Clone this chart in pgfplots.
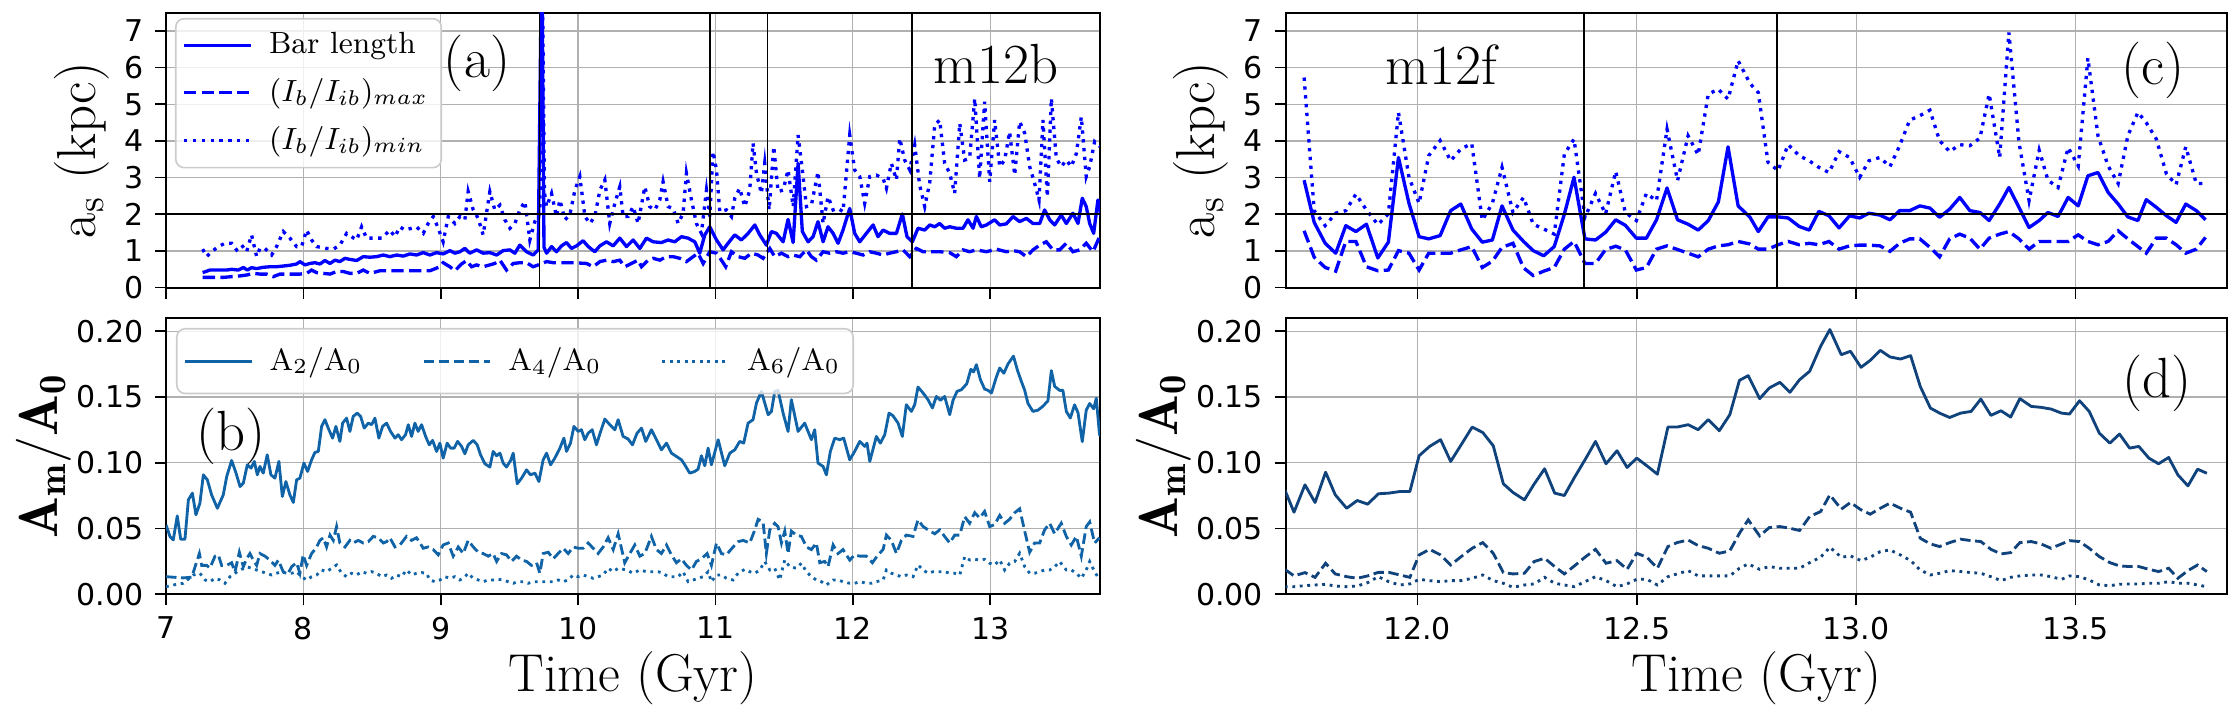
\RequirePackage{fix-cm}
\documentclass[border=0pt]{standalone}
\usepackage{fontspec}
\newfontfamily\dejavu{DejaVu Sans}
\usepackage{pgfplots}
\usepackage{pgfplotstable}
\pgfplotsset{compat=1.18}
\definecolor{cB}{RGB}{0,0,255}
\definecolor{cL}{RGB}{16,99,166}
\definecolor{cD}{RGB}{16,66,124}
\definecolor{gridc}{RGB}{176,176,176}
\definecolor{legc}{RGB}{204,204,204}

\pgfplotstableread{
t s d m
11.742 2.93 1.55 5.73
11.765 1.78 0.83 2.10
11.790 1.21 0.55 1.69
11.814 0.94 0.45 2.03
11.837 1.69 1.26 2.10
11.860 1.53 1.26 2.55
11.884 1.73 0.57 2.12
11.910 0.81 0.46 1.72
11.934 1.24 0.48 2.01
11.957 3.55 1.01 4.78
11.981 2.30 0.94 3.01
12.004 1.39 0.48 2.30
12.026 1.33 0.94 3.60
12.052 1.42 0.94 4.01
12.076 2.10 0.94 3.46
12.099 2.28 1.03 3.78
12.124 1.60 1.12 3.93
12.148 1.24 0.55 1.84
12.171 1.30 0.72 2.30
12.193 2.23 1.10 3.28
12.218 1.57 1.21 2.05
12.242 1.26 0.54 2.46
12.264 1.01 0.33 1.73
12.288 0.87 0.45 1.60
12.312 1.12 0.55 1.46
12.335 2.00 1.05 3.64
12.357 3.01 1.26 4.05
12.382 1.33 0.66 1.92
12.406 1.30 0.66 2.57
12.429 1.51 1.04 2.01
12.452 1.85 1.13 3.17
12.474 1.70 1.03 2.05
12.499 1.35 0.48 1.83
12.522 1.35 0.55 2.57
12.545 1.85 1.05 2.37
12.569 2.72 1.14 4.32
12.593 1.85 1.04 2.92
12.617 1.73 0.94 4.14
12.640 1.57 0.84 3.62
12.663 1.83 1.05 5.28
12.686 2.34 1.14 5.41
12.708 3.84 1.17 5.14
12.731 2.23 1.26 6.19
12.758 1.92 1.19 5.57
12.777 1.53 1.05 5.32
12.799 1.93 1.05 3.42
12.822 1.93 1.17 3.19
12.845 1.90 1.26 3.90
12.870 1.67 1.17 3.60
12.893 1.57 1.21 3.46
12.915 2.08 1.17 3.28
12.938 1.96 1.26 3.14
12.961 1.63 1.05 3.71
12.985 1.96 1.14 3.55
13.008 1.90 1.16 3.01
13.029 2.03 1.16 3.46
13.054 1.98 1.14 3.55
13.077 1.85 0.99 3.30
13.099 2.10 1.21 3.87
13.122 2.10 1.33 4.57
13.145 2.23 1.33 4.69
13.168 2.17 1.10 4.84
13.190 1.92 0.84 4.01
13.213 2.14 1.33 3.71
13.236 2.46 1.46 3.90
13.259 2.10 1.35 3.87
13.282 2.05 1.05 4.08
13.303 1.83 1.35 5.28
13.327 2.28 1.46 3.55
13.348 2.73 1.53 6.96
13.371 2.19 1.33 3.96
13.394 1.64 1.05 2.37
13.417 1.83 1.26 3.75
13.437 2.05 1.26 2.93
13.460 1.94 1.26 2.73
13.483 2.46 1.26 3.82
13.506 2.23 1.44 3.32
13.528 3.05 1.26 6.26
13.551 3.14 1.17 4.14
13.574 2.60 1.26 3.32
13.597 2.28 1.55 2.84
13.619 1.93 1.33 4.14
13.642 1.83 1.12 4.78
13.661 2.40 0.94 4.50
13.684 2.19 1.35 4.05
13.707 1.96 1.35 3.10
13.729 1.78 1.17 2.81
13.751 2.28 0.94 3.84
13.775 2.10 1.05 2.84
13.796 1.85 1.37 2.84
}\tabC

\pgfplotstableread{
t a b c
11.698 0.0794 0.0190 0.0058
11.719 0.0624 0.0140 0.0058
11.744 0.0832 0.0165 0.0066
11.767 0.0698 0.0129 0.0071
11.791 0.0928 0.0236 0.0076
11.813 0.0756 0.0155 0.0063
11.839 0.0654 0.0134 0.0058
11.863 0.0713 0.0122 0.0063
11.887 0.0685 0.0140 0.0089
11.911 0.0764 0.0167 0.0134
11.935 0.0769 0.0167 0.0096
11.960 0.0781 0.0147 0.0071
11.983 0.0781 0.0129 0.0079
12.004 0.1053 0.0299 0.0114
12.028 0.1124 0.0342 0.0104
12.053 0.1175 0.0299 0.0096
12.076 0.1010 0.0223 0.0104
12.100 0.1137 0.0287 0.0104
12.125 0.1271 0.0350 0.0122
12.149 0.1230 0.0393 0.0147
12.173 0.1129 0.0312 0.0104
12.196 0.0840 0.0165 0.0084
12.218 0.0774 0.0155 0.0053
12.244 0.0718 0.0160 0.0071
12.266 0.0837 0.0249 0.0079
12.290 0.0954 0.0274 0.0129
12.313 0.0769 0.0211 0.0084
12.335 0.0751 0.0155 0.0071
12.358 0.0888 0.0216 0.0058
12.382 0.1022 0.0282 0.0096
12.406 0.1162 0.0342 0.0134
12.430 0.0992 0.0236 0.0104
12.455 0.1091 0.0256 0.0058
12.478 0.0964 0.0190 0.0079
12.500 0.1035 0.0312 0.0114
12.523 0.0977 0.0282 0.0114
12.547 0.0913 0.0198 0.0071
12.571 0.1271 0.0363 0.0134
12.592 0.1271 0.0393 0.0155
12.617 0.1289 0.0413 0.0180
12.640 0.1251 0.0370 0.0140
12.663 0.1327 0.0350 0.0140
12.688 0.1243 0.0312 0.0140
12.712 0.1365 0.0330 0.0140
12.734 0.1626 0.0464 0.0198
12.754 0.1662 0.0566 0.0231
12.780 0.1487 0.0444 0.0190
12.802 0.1568 0.0507 0.0211
12.826 0.1611 0.0515 0.0198
12.849 0.1535 0.0502 0.0198
12.871 0.1631 0.0485 0.0198
12.894 0.1695 0.0591 0.0241
12.919 0.1885 0.0629 0.0282
12.940 0.2012 0.0756 0.0358
12.966 0.1821 0.0647 0.0282
12.987 0.1847 0.0698 0.0292
13.011 0.1725 0.0642 0.0256
13.032 0.1778 0.0609 0.0282
13.055 0.1854 0.0654 0.0325
13.077 0.1804 0.0693 0.0337
13.101 0.1788 0.0654 0.0299
13.124 0.1814 0.0624 0.0256
13.146 0.1580 0.0426 0.0185
13.169 0.1416 0.0383 0.0147
13.190 0.1377 0.0363 0.0160
13.213 0.1344 0.0393 0.0180
13.238 0.1377 0.0419 0.0173
13.262 0.1390 0.0408 0.0165
13.284 0.1484 0.0401 0.0160
13.307 0.1360 0.0342 0.0134
13.330 0.1395 0.0307 0.0104
13.352 0.1347 0.0317 0.0129
13.373 0.1487 0.0393 0.0140
13.399 0.1428 0.0401 0.0147
13.421 0.1421 0.0383 0.0147
13.444 0.1408 0.0350 0.0134
13.468 0.1377 0.0383 0.0114
13.486 0.1370 0.0408 0.0140
13.509 0.1471 0.0401 0.0134
13.531 0.1390 0.0350 0.0109
13.554 0.1225 0.0287 0.0071
13.578 0.1149 0.0241 0.0066
13.600 0.1218 0.0216 0.0076
13.623 0.1111 0.0211 0.0079
13.644 0.1124 0.0211 0.0079
13.667 0.1035 0.0190 0.0084
13.689 0.0992 0.0173 0.0084
13.712 0.1040 0.0198 0.0096
13.733 0.0908 0.0122 0.0084
13.756 0.0824 0.0180 0.0084
13.778 0.0951 0.0223 0.0071
13.799 0.0920 0.0173 0.0058
}\tabD

\tikzset{annot/.style={font=\fontsize{17}{17}\selectfont, inner sep=0pt}}
\pgfplotsset{
  panel/.style={
    scale only axis,
    anchor=south west,
    axis line style={line width=0.6pt},
    grid=major,
    major grid style={line width=0.35pt, draw=gridc},
    tick align=outside,
    major tick length=3.3pt,
    every tick/.style={black, line width=0.5pt},
    xtick pos=bottom, ytick pos=left,
    minor tick num=0,
    ticklabel style={font=\dejavu\fontsize{9}{9}\selectfont},
    /pgf/number format/assume math mode=true,
    scaled ticks=false,
    xlabel style={font=\fontsize{16}{16}\selectfont, inner sep=0pt},
    ylabel style={font=\fontsize{16.5}{16.5}\selectfont, inner sep=1pt},
    legend cell align=left,
    legend image code/.code={\draw[##1] (0pt,0pt) -- (20pt,0pt);},
  },
  toppanel/.style={panel, height=82.5pt, ymin=0, ymax=7.5, ytick={0,1,2,3,4,5,6,7},
    xticklabels={}, ylabel={$\mathrm{a_s}$ (kpc)}},
  botpanel/.style={panel, height=82.9pt, ymin=0, ymax=0.21, ytick={0,0.05,0.1,0.15,0.2},
    yticklabel style={/pgf/number format/fixed, /pgf/number format/fixed zerofill, /pgf/number format/precision=2},
    xlabel={Time (Gyr)}, ylabel={$\mathbf{A_m/A_0}$}, ylabel style={yshift=-3pt}},
  sA/.style={cB, line width=1pt, line join=round},
  dA/.style={cB, line width=1pt, dash pattern=on 3.7pt off 1.6pt},
  mA/.style={cB, line width=1pt, dash pattern=on 1pt off 1.65pt},
  sL/.style={#1, line width=0.85pt, line join=round},
  dL/.style={#1, line width=0.85pt, dash pattern=on 3.15pt off 1.36pt},
  mL/.style={#1, line width=0.85pt, dash pattern=on 0.85pt off 1.4pt},
  refl/.style={black, line width=0.45pt, forget plot},
  refh/.style={black, line width=0.6pt, forget plot},
}

\begin{document}
\begin{tikzpicture}
\useasboundingbox (0,0) rectangle (672pt,216pt);

% ---------------- (a) ----------------
\begin{axis}[toppanel, at={(49.8pt,129.7pt)}, width=280.2pt,
  xmin=7, xmax=13.8, xtick={7,8,9,10,11,12,13},
  legend style={at={(0.0096,0.981)}, anchor=north west, draw=legc, line width=0.5pt,
    rounded corners=2.5pt, fill=white, fill opacity=0.8, draw opacity=1, text opacity=1,
    font=\fontsize{9.2}{11}\selectfont, inner xsep=2pt, inner ysep=2pt, row sep=2pt,
    /tikz/every odd column/.append style={column sep=3pt}}]
\addplot[sA] coordinates {
(7.267,0.41) (7.320,0.48) (7.381,0.48) (7.442,0.48) (7.478,0.50) (7.526,0.48) (7.563,0.55) (7.592,0.48)
(7.623,0.545) (7.660,0.52) (7.708,0.555) (7.757,0.57) (7.805,0.57) (7.854,0.59) (7.902,0.61) (7.951,0.645)
(7.975,0.71) (8.012,0.62) (8.048,0.66) (8.084,0.68) (8.121,0.645) (8.157,0.74) (8.194,0.66) (8.230,0.75)
(8.266,0.71) (8.303,0.80) (8.339,0.77) (8.388,0.74) (8.436,0.845) (8.485,0.83) (8.533,0.845) (8.582,0.89)
(8.630,0.845) (8.679,0.89) (8.727,0.86) (8.776,0.92) (8.824,0.89) (8.873,0.955) (8.921,0.89) (8.970,0.955)
(9.018,0.92) (9.067,1.01) (9.103,0.94) (9.140,0.98) (9.176,1.07) (9.212,0.94) (9.261,1.03) (9.309,0.94)
(9.358,0.955) (9.407,0.89) (9.455,1.01) (9.504,1.03) (9.540,0.94) (9.576,1.16) (9.625,0.98) (9.673,0.89)
(9.710,1.03) (9.736,9.5) (9.752,1.10) (9.771,0.94) (9.807,1.12) (9.843,0.98) (9.880,1.14) (9.916,1.23)
(9.952,1.07) (9.989,1.14) (10.037,1.28) (10.074,1.12) (10.122,0.98) (10.159,1.14) (10.207,1.25) (10.256,1.14)
(10.304,1.35) (10.353,1.12) (10.401,1.30) (10.450,1.07) (10.498,1.35) (10.547,1.25) (10.607,1.23) (10.656,1.30)
(10.704,1.25) (10.753,1.39) (10.801,1.35) (10.850,1.25) (10.886,0.94) (10.923,1.44) (10.959,1.66) (11.008,1.30)
(11.056,1.03) (11.092,1.21) (11.141,1.44) (11.189,1.30) (11.238,1.48) (11.287,1.71) (11.323,1.44) (11.371,1.16)
(11.408,1.53) (11.444,1.48) (11.493,1.25) (11.529,1.86) (11.566,1.23) (11.602,3.39) (11.633,1.53) (11.675,1.25)
(11.711,1.39) (11.747,1.80) (11.784,1.25) (11.820,1.66) (11.857,1.48) (11.893,1.21) (11.929,1.57) (11.978,2.16)
(12.014,1.48) (12.051,1.25) (12.099,1.48) (12.148,1.71) (12.184,1.39) (12.221,1.57) (12.269,1.48) (12.318,1.48)
(12.361,2.01) (12.395,1.39) (12.434,1.25) (12.475,1.62) (12.524,1.57) (12.560,1.71) (12.597,1.66) (12.633,1.75)
(12.669,1.62) (12.706,1.66) (12.754,1.62) (12.803,1.62) (12.839,1.85) (12.876,1.62) (12.900,1.94) (12.936,1.66)
(12.973,1.71) (13.033,1.85) (13.070,1.71) (13.118,1.74) (13.167,1.94) (13.215,1.80) (13.264,1.89) (13.312,1.75)
(13.361,1.75) (13.397,2.12) (13.434,1.85) (13.470,1.71) (13.518,1.98) (13.555,1.75) (13.603,2.03) (13.640,1.75)
(13.671,2.44) (13.700,2.21) (13.725,1.75) (13.754,1.48) (13.785,2.39) (13.809,1.94)
};
\addlegendentry{Bar length}
\addplot[dA] coordinates {
(7.267,0.28) (7.344,0.28) (7.417,0.28) (7.478,0.30) (7.539,0.32) (7.587,0.345) (7.636,0.39) (7.684,0.37)
(7.733,0.37) (7.781,0.30) (7.830,0.37) (7.878,0.37) (7.927,0.37) (7.975,0.37) (8.024,0.39) (8.060,0.48)
(8.097,0.41) (8.145,0.39) (8.194,0.37) (8.242,0.44) (8.291,0.44) (8.339,0.39) (8.388,0.39) (8.436,0.48)
(8.485,0.39) (8.557,0.46) (8.654,0.46) (8.751,0.46) (8.849,0.46) (8.921,0.46) (8.994,0.57) (9.018,0.68)
(9.067,0.57) (9.103,0.46) (9.152,0.645) (9.188,0.74) (9.225,0.57) (9.261,0.62) (9.309,0.57) (9.358,0.62)
(9.394,0.66) (9.431,0.75) (9.479,0.48) (9.528,0.66) (9.576,0.68) (9.625,0.68) (9.673,0.57) (9.710,0.62)
(9.771,0.71) (9.819,0.68) (9.892,0.68) (9.965,0.68) (10.062,0.66) (10.110,0.57) (10.159,0.71) (10.207,0.75)
(10.256,0.71) (10.304,0.75) (10.340,0.57) (10.389,0.66) (10.437,0.75) (10.462,0.57) (10.510,0.75) (10.547,0.80)
(10.595,0.75) (10.644,0.845) (10.692,0.845) (10.741,0.80) (10.789,0.71) (10.838,0.845) (10.874,0.94) (10.911,0.66)
(10.959,0.98) (11.008,0.94) (11.044,0.75) (11.075,0.57) (11.117,0.98) (11.165,0.845) (11.214,0.80) (11.262,0.94)
(11.311,0.89) (11.347,0.80) (11.396,1.07) (11.432,0.845) (11.481,0.94) (11.529,0.845) (11.566,0.89) (11.614,0.845)
(11.663,1.03) (11.699,0.845) (11.735,0.75) (11.784,0.98) (11.832,0.94) (11.881,0.98) (11.929,0.94) (11.978,0.98)
(12.026,0.94) (12.075,0.89) (12.124,0.98) (12.172,0.94) (12.221,0.89) (12.269,0.94) (12.318,0.98) (12.366,1.03)
(12.415,0.845) (12.463,1.07) (12.512,0.98) (12.560,0.98) (12.633,0.98) (12.706,0.955) (12.754,0.845) (12.803,1.03)
(12.851,0.98) (12.900,1.03) (12.973,0.98) (13.045,1.05) (13.118,0.98) (13.167,1.01) (13.215,0.98) (13.264,0.845)
(13.312,1.03) (13.361,1.16) (13.409,1.25) (13.458,1.03) (13.506,1.03) (13.555,1.21) (13.603,0.98) (13.652,1.03)
(13.700,1.21) (13.749,0.98) (13.797,1.39)
};
\addlegendentry{$(I_b/I_{ib})_{max}$}
\addplot[mA] coordinates {
(7.267,1.05) (7.296,0.85) (7.332,0.98) (7.381,1.12) (7.429,1.21) (7.478,1.21) (7.514,1.03) (7.551,1.16)
(7.587,0.98) (7.623,1.44) (7.660,0.85) (7.684,1.07) (7.720,1.07) (7.769,0.89) (7.805,1.12) (7.854,1.53)
(7.902,1.35) (7.951,1.12) (7.987,1.12) (8.024,1.57) (8.060,1.30) (8.097,1.12) (8.169,1.07) (8.218,1.05)
(8.266,1.16) (8.315,1.48) (8.351,1.39) (8.388,1.30) (8.424,1.66) (8.460,1.35) (8.509,1.35) (8.570,1.35)
(8.630,1.57) (8.667,1.39) (8.703,1.66) (8.739,1.57) (8.788,1.62) (8.824,1.66) (8.873,1.48) (8.909,1.75)
(8.946,1.94) (8.982,1.62) (9.018,1.25) (9.055,1.94) (9.103,1.75) (9.140,1.94) (9.176,1.85) (9.200,2.62)
(9.237,2.12) (9.273,1.89) (9.309,1.44) (9.358,2.62) (9.394,2.12) (9.431,2.25) (9.467,1.85) (9.504,1.62)
(9.540,1.75) (9.576,2.12) (9.613,2.35) (9.649,1.30) (9.685,1.80) (9.722,2.03) (9.739,9.0) (9.755,2.60)
(9.771,2.21) (9.807,2.57) (9.843,1.94) (9.868,2.39) (9.904,1.85) (9.940,1.98) (9.977,2.66) (10.013,3.03)
(10.050,1.94) (10.086,1.75) (10.122,1.94) (10.159,2.66) (10.195,2.94) (10.231,1.75) (10.268,2.30) (10.304,2.75)
(10.328,1.94) (10.365,1.94) (10.401,2.21) (10.437,1.75) (10.486,2.75) (10.522,2.21) (10.559,2.12) (10.595,2.39)
(10.619,2.89) (10.656,2.21) (10.692,2.16) (10.729,1.75) (10.765,2.03) (10.789,3.12) (10.826,2.39) (10.862,1.75)
(10.898,1.48) (10.935,2.66) (10.959,1.94) (10.983,3.71) (11.008,3.21) (11.032,2.07) (11.080,2.12) (11.117,1.94)
(11.141,2.44) (11.177,2.71) (11.214,2.21) (11.250,2.66) (11.274,3.94) (11.299,3.12) (11.335,2.57) (11.359,3.39)
(11.391,2.12) (11.425,3.85) (11.456,2.62) (11.493,2.66) (11.529,3.21) (11.566,2.21) (11.602,4.16) (11.633,3.21)
(11.663,2.21) (11.699,2.25) (11.747,3.16) (11.784,1.75) (11.820,2.48) (11.857,2.12) (11.893,2.16) (11.929,2.07)
(11.978,4.16) (12.014,3.21) (12.051,3.03) (12.087,2.30) (12.124,3.03) (12.172,3.07) (12.221,2.98) (12.245,2.71)
(12.281,3.39) (12.318,2.94) (12.342,4.07) (12.378,3.48) (12.415,3.21) (12.451,3.89) (12.487,2.80) (12.524,2.21)
(12.560,2.85) (12.597,4.44) (12.633,4.57) (12.669,3.39) (12.706,3.12) (12.742,2.57) (12.779,4.48) (12.815,3.48)
(12.851,3.53) (12.888,5.16) (12.924,2.98) (12.960,5.07) (12.997,2.89) (13.033,4.57) (13.070,3.30) (13.106,3.48)
(13.142,4.25) (13.179,3.07) (13.215,4.53) (13.252,4.21) (13.288,3.30) (13.324,2.85) (13.356,2.39) (13.385,4.57)
(13.417,2.48) (13.446,5.16) (13.482,3.53) (13.518,3.30) (13.555,3.48) (13.591,3.30) (13.628,3.66) (13.664,4.66)
(13.700,3.03) (13.725,3.30) (13.761,3.98) (13.797,3.85)
};
\addlegendentry{$(I_b/I_{ib})_{min}$}
\addplot[refl] coordinates {(9.72,0) (9.72,7.5)};
\addplot[refl] coordinates {(10.96,0) (10.96,7.5)};
\addplot[refl] coordinates {(11.38,0) (11.38,7.5)};
\addplot[refl] coordinates {(12.43,0) (12.43,7.5)};
\addplot[refh] coordinates {(7,2) (13.8,2)};
\node[annot] at (rel axis cs:0.333,0.817) {(a)};
\node[annot] at (rel axis cs:0.889,0.813) {m12b};
\end{axis}

% ---------------- (b) ----------------
\begin{axis}[botpanel, at={(49.8pt,37.7pt)}, width=280.2pt,
  xmin=7, xmax=13.8, xtick={7,8,9,10,11,12,13},
  legend columns=3,
  legend style={at={(0.0107,0.964)}, anchor=north west, draw=legc, line width=0.5pt,
    rounded corners=2.5pt, fill=white, fill opacity=0.8, draw opacity=1, text opacity=1,
    font=\fontsize{9.2}{11}\selectfont, inner xsep=2pt, inner ysep=3.5pt,
    /tikz/every odd column/.append style={column sep=3pt},
    /tikz/every even column/.append style={column sep=16pt}}]
\addplot[sL=cL] coordinates {
(7.000,0.0528) (7.029,0.0439) (7.053,0.0414) (7.082,0.0596) (7.107,0.0419) (7.138,0.0419) (7.163,0.0718) (7.192,0.0769)
(7.218,0.0604) (7.247,0.0693) (7.272,0.0908) (7.301,0.0870) (7.332,0.0756) (7.374,0.0654) (7.417,0.0756) (7.442,0.0895)
(7.478,0.1017) (7.510,0.0921) (7.539,0.0819) (7.563,0.0845) (7.592,0.0984) (7.619,0.0959) (7.643,0.1010) (7.665,0.0908)
(7.684,0.0972) (7.708,0.0921) (7.737,0.1060) (7.764,0.0908) (7.793,0.0883) (7.822,0.1010) (7.847,0.0743) (7.873,0.0857)
(7.902,0.0756) (7.927,0.0698) (7.951,0.0870) (7.975,0.0883) (8.004,0.0997) (8.031,0.0934) (8.060,0.1022) (8.084,0.1078)
(8.109,0.1086) (8.133,0.1276) (8.157,0.1327) (8.186,0.1251) (8.213,0.1187) (8.237,0.1276) (8.266,0.1162) (8.286,0.1301)
(8.315,0.1339) (8.339,0.1238) (8.363,0.1352) (8.392,0.1377) (8.417,0.1352) (8.443,0.1263) (8.473,0.1301) (8.497,0.1289)
(8.521,0.1339) (8.550,0.1187) (8.577,0.1276) (8.606,0.1301) (8.635,0.1238) (8.667,0.1187) (8.691,0.1213) (8.715,0.1175)
(8.744,0.1213) (8.764,0.1289) (8.788,0.1200) (8.812,0.1301) (8.836,0.1238) (8.861,0.1289) (8.890,0.1200) (8.917,0.1136)
(8.941,0.1170) (8.970,0.1086) (8.994,0.1149) (9.018,0.1035) (9.047,0.1149) (9.072,0.1111) (9.098,0.1111) (9.123,0.1162)
(9.152,0.1124) (9.176,0.1068) (9.200,0.1136) (9.237,0.1170) (9.266,0.1136) (9.290,0.1060) (9.322,0.0992) (9.358,0.0967)
(9.382,0.1086) (9.407,0.1053) (9.431,0.1073) (9.455,0.0997) (9.479,0.0967) (9.509,0.1017) (9.528,0.1073) (9.557,0.0840)
(9.589,0.0883) (9.625,0.0946) (9.654,0.0908) (9.686,0.0921) (9.715,0.0857) (9.746,0.1022) (9.771,0.1073) (9.800,0.0984)
(9.831,0.1035) (9.868,0.1111) (9.897,0.1187) (9.916,0.1086) (9.945,0.1149) (9.970,0.1276) (10.001,0.1238) (10.025,0.1251)
(10.049,0.1175) (10.074,0.1225) (10.103,0.1251) (10.134,0.1136) (10.159,0.1220) (10.195,0.1332) (10.231,0.1289) (10.268,0.1251)
(10.292,0.1327) (10.328,0.1200) (10.365,0.1180) (10.396,0.1136) (10.430,0.1225) (10.462,0.1263) (10.493,0.1162) (10.534,0.1251)
(10.571,0.1175) (10.607,0.1098) (10.644,0.1149) (10.680,0.1073) (10.716,0.1048) (10.753,0.1022) (10.777,0.0984) (10.813,0.0921)
(10.850,0.0934) (10.874,0.0951) (10.898,0.1053) (10.923,0.0977) (10.947,0.1111) (10.971,0.0984) (11.020,0.1175) (11.068,0.0977)
(11.105,0.1073) (11.141,0.1098) (11.177,0.1162) (11.206,0.1149) (11.238,0.1301) (11.274,0.1327) (11.299,0.1454) (11.335,0.1542)
(11.384,0.1365) (11.408,0.1390) (11.432,0.1542) (11.456,0.1550) (11.493,0.1377) (11.529,0.1238) (11.553,0.1479) (11.602,0.1238)
(11.650,0.1301) (11.699,0.1175) (11.723,0.1251) (11.747,0.0997) (11.784,0.0972) (11.808,0.0908) (11.837,0.1086) (11.869,0.1187)
(11.905,0.1175) (11.934,0.1187) (11.978,0.1022) (12.014,0.1086) (12.051,0.1162) (12.087,0.1124) (12.104,0.1149) (12.124,0.1010)
(12.172,0.1200) (12.201,0.1149) (12.233,0.1213) (12.264,0.1377) (12.293,0.1357) (12.330,0.1301) (12.361,0.1200) (12.390,0.1441)
(12.427,0.1390) (12.451,0.1441) (12.475,0.1575) (12.512,0.1530) (12.548,0.1479) (12.580,0.1416) (12.609,0.1504) (12.638,0.1474)
(12.669,0.1504) (12.706,0.1365) (12.730,0.1474) (12.759,0.1542) (12.791,0.1555) (12.830,0.1600) (12.860,0.1710) (12.880,0.1690)
(12.900,0.1745) (12.930,0.1630) (12.960,0.1560) (12.985,0.1550) (13.010,0.1530) (13.045,0.1650) (13.070,0.1720) (13.100,0.1680)
(13.130,0.1750) (13.170,0.1810) (13.200,0.1700) (13.227,0.1620) (13.252,0.1550) (13.276,0.1450) (13.312,0.1390) (13.349,0.1400)
(13.385,0.1430) (13.421,0.1470) (13.446,0.1700) (13.470,0.1580) (13.506,0.1550) (13.530,0.1550) (13.555,0.1390) (13.584,0.1340)
(13.615,0.1440) (13.640,0.1380) (13.671,0.1160) (13.700,0.1400) (13.725,0.1450) (13.754,0.1410) (13.773,0.1490) (13.797,0.1210)
(13.820,0.1260)
};
\addlegendentry{$\mathrm{A_2/A_0}$}
\addplot[dL=cL] coordinates {
(7.000,0.0134) (7.053,0.013) (7.126,0.0125) (7.187,0.013) (7.243,0.031) (7.260,0.022) (7.296,0.022) (7.320,0.020)
(7.357,0.029) (7.381,0.030) (7.405,0.022) (7.442,0.022) (7.478,0.024) (7.502,0.017) (7.534,0.032) (7.563,0.021)
(7.587,0.027) (7.611,0.031) (7.636,0.026) (7.660,0.022) (7.684,0.031) (7.720,0.029) (7.757,0.026) (7.793,0.022)
(7.818,0.026) (7.854,0.017) (7.890,0.016) (7.915,0.021) (7.951,0.024) (7.975,0.016) (7.999,0.030) (8.024,0.022)
(8.060,0.031) (8.092,0.035) (8.121,0.041) (8.145,0.043) (8.169,0.036) (8.194,0.045) (8.218,0.041) (8.242,0.0515)
(8.266,0.039) (8.303,0.036) (8.339,0.041) (8.363,0.039) (8.400,0.041) (8.436,0.039) (8.473,0.040) (8.509,0.044)
(8.545,0.043) (8.582,0.039) (8.606,0.040) (8.630,0.043) (8.667,0.036) (8.703,0.0375) (8.751,0.044) (8.788,0.041)
(8.824,0.043) (8.849,0.039) (8.873,0.035) (8.909,0.036) (8.946,0.034) (8.982,0.030) (9.018,0.0375) (9.055,0.039)
(9.091,0.029) (9.128,0.036) (9.164,0.031) (9.200,0.041) (9.237,0.036) (9.273,0.032) (9.309,0.031) (9.346,0.029)
(9.382,0.031) (9.407,0.025) (9.443,0.031) (9.479,0.030) (9.516,0.025) (9.552,0.029) (9.589,0.026) (9.625,0.025)
(9.661,0.022) (9.698,0.024) (9.722,0.016) (9.746,0.031) (9.783,0.032) (9.819,0.027) (9.855,0.031) (9.892,0.035)
(9.928,0.031) (9.965,0.036) (10.001,0.035) (10.037,0.035) (10.074,0.039) (10.110,0.035) (10.146,0.031) (10.183,0.036)
(10.219,0.043) (10.256,0.034) (10.292,0.046) (10.340,0.024) (10.377,0.031) (10.413,0.0375) (10.450,0.029) (10.486,0.031)
(10.534,0.044) (10.571,0.034) (10.607,0.031) (10.644,0.0375) (10.680,0.030) (10.716,0.024) (10.753,0.027) (10.789,0.022)
(10.826,0.0185) (10.862,0.025) (10.898,0.027) (10.940,0.031) (10.971,0.022) (11.008,0.039) (11.044,0.031) (11.080,0.030)
(11.129,0.036) (11.165,0.040) (11.202,0.041) (11.250,0.039) (11.287,0.049) (11.311,0.057) (11.347,0.055) (11.371,0.031)
(11.396,0.049) (11.432,0.054) (11.456,0.0515) (11.481,0.039) (11.505,0.048) (11.529,0.031) (11.553,0.048) (11.590,0.045)
(11.626,0.044) (11.663,0.036) (11.699,0.034) (11.735,0.039) (11.760,0.024) (11.796,0.025) (11.820,0.021) (11.857,0.0375)
(11.893,0.031) (11.929,0.034) (11.978,0.026) (12.014,0.030) (12.051,0.029) (12.099,0.029) (12.143,0.024) (12.184,0.030)
(12.221,0.034) (12.245,0.045) (12.281,0.041) (12.318,0.031) (12.354,0.041) (12.390,0.045) (12.439,0.044) (12.475,0.0566)
(12.512,0.0515) (12.548,0.049) (12.597,0.046) (12.633,0.049) (12.669,0.044) (12.706,0.039) (12.742,0.045) (12.779,0.045)
(12.815,0.059) (12.851,0.054) (12.888,0.062) (12.924,0.058) (12.960,0.063) (12.997,0.0515) (13.033,0.053) (13.070,0.060)
(13.106,0.054) (13.142,0.057) (13.179,0.062) (13.215,0.065) (13.252,0.048) (13.288,0.032) (13.324,0.039) (13.361,0.039)
(13.397,0.049) (13.434,0.054) (13.470,0.046) (13.518,0.054) (13.555,0.044) (13.591,0.0375) (13.628,0.044) (13.664,0.029)
(13.700,0.0515) (13.725,0.055) (13.761,0.039) (13.797,0.043)
};
\addlegendentry{$\mathrm{A_4/A_0}$}
\addplot[mL=cL] coordinates {
(7.000,0.0058) (7.053,0.0071) (7.126,0.0084) (7.199,0.0147) (7.247,0.016) (7.284,0.0109) (7.320,0.0096) (7.357,0.0122)
(7.393,0.0109) (7.429,0.0084) (7.466,0.0134) (7.502,0.016) (7.539,0.0185) (7.587,0.021) (7.623,0.0198) (7.660,0.0185)
(7.696,0.0172) (7.733,0.016) (7.769,0.0147) (7.805,0.016) (7.842,0.0172) (7.878,0.016) (7.915,0.016) (7.951,0.0172)
(7.987,0.0134) (8.024,0.0109) (8.060,0.0134) (8.097,0.0147) (8.133,0.0185) (8.169,0.0172) (8.206,0.0198) (8.242,0.0223)
(8.279,0.016) (8.315,0.0134) (8.351,0.016) (8.388,0.0147) (8.424,0.0172) (8.460,0.016) (8.497,0.0172) (8.533,0.016)
(8.570,0.0134) (8.606,0.0147) (8.642,0.0122) (8.679,0.0147) (8.715,0.0134) (8.751,0.0185) (8.788,0.0147) (8.824,0.016)
(8.861,0.0165) (8.897,0.016) (8.921,0.0109) (8.958,0.0096) (8.994,0.0109) (9.031,0.0134) (9.067,0.0122) (9.103,0.0134)
(9.140,0.0109) (9.176,0.0134) (9.200,0.016) (9.237,0.0122) (9.273,0.0109) (9.309,0.0096) (9.346,0.0109) (9.382,0.0109)
(9.419,0.0114) (9.455,0.0109) (9.491,0.0096) (9.528,0.0084) (9.564,0.0096) (9.600,0.0096) (9.637,0.0084) (9.673,0.0096)
(9.710,0.0096) (9.746,0.0096) (9.783,0.0096) (9.819,0.0096) (9.855,0.0109) (9.892,0.0096) (9.928,0.0109) (9.965,0.0147)
(10.001,0.0134) (10.037,0.0147) (10.074,0.0134) (10.110,0.0122) (10.146,0.0134) (10.183,0.0147) (10.219,0.0198) (10.256,0.0172)
(10.292,0.0198) (10.353,0.0185) (10.401,0.016) (10.450,0.0185) (10.498,0.0172) (10.547,0.0172) (10.583,0.0172) (10.619,0.016)
(10.656,0.0134) (10.692,0.0134) (10.729,0.0134) (10.765,0.0172) (10.801,0.0096) (10.838,0.0109) (10.874,0.0122) (10.911,0.0134)
(10.947,0.0172) (10.971,0.0096) (11.008,0.0147) (11.044,0.0147) (11.080,0.0122) (11.129,0.0109) (11.165,0.016) (11.214,0.019)
(11.250,0.0172) (11.287,0.016) (11.323,0.0185) (11.359,0.0249) (11.396,0.0185) (11.432,0.0198) (11.468,0.0109) (11.505,0.0261)
(11.541,0.021) (11.590,0.0198) (11.626,0.0236) (11.663,0.0172) (11.699,0.0134) (11.735,0.0109) (11.772,0.0096) (11.808,0.0071)
(11.857,0.0109) (11.893,0.0109) (11.929,0.0096) (11.978,0.0084) (12.014,0.0084) (12.051,0.0096) (12.099,0.0084) (12.136,0.0084)
(12.172,0.0096) (12.221,0.0109) (12.245,0.0185) (12.281,0.016) (12.318,0.0147) (12.354,0.0134) (12.390,0.0147) (12.439,0.0134)
(12.475,0.0223) (12.512,0.0185) (12.548,0.016) (12.584,0.0172) (12.633,0.0172) (12.669,0.0172) (12.706,0.016) (12.742,0.016)
(12.779,0.0147) (12.815,0.0287) (12.851,0.0261) (12.888,0.0266) (12.924,0.0261) (12.960,0.0266) (12.997,0.0236) (13.033,0.0223)
(13.070,0.0261) (13.106,0.0185) (13.142,0.0236) (13.179,0.0249) (13.215,0.0312) (13.252,0.021) (13.288,0.016) (13.324,0.016)
(13.361,0.0172) (13.397,0.0185) (13.434,0.0185) (13.470,0.021) (13.506,0.0249) (13.555,0.0185) (13.591,0.0185) (13.628,0.016)
(13.664,0.0122) (13.700,0.0185) (13.725,0.0249) (13.761,0.0172) (13.797,0.0109)
};
\addlegendentry{$\mathrm{A_6/A_0}$}
\node[annot] at (rel axis cs:0.0696,0.573) {(b)};
\end{axis}

% ---------------- (c) ----------------
\begin{axis}[toppanel, at={(385.7pt,129.7pt)}, width=282.4pt,
  xmin=11.70, xmax=13.845, xtick={12,12.5,13,13.5}]
\addplot[sA] table[x=t, y=s] {\tabC};
\addplot[dA] table[x=t, y=d] {\tabC};
\addplot[mA] table[x=t, y=m] {\tabC};
\addplot[refl] coordinates {(12.38,0) (12.38,7.5)};
\addplot[refl] coordinates {(12.82,0) (12.82,7.5)};
\addplot[refh] coordinates {(11.70,2) (13.845,2)};
\node[annot] at (rel axis cs:0.165,0.81) {m12f};
\node[annot] at (rel axis cs:0.921,0.79) {(c)};
\end{axis}

% ---------------- (d) ----------------
\begin{axis}[botpanel, at={(385.7pt,37.7pt)}, width=282.4pt,
  xmin=11.70, xmax=13.845, xtick={12,12.5,13,13.5},
  xticklabel style={/pgf/number format/fixed, /pgf/number format/fixed zerofill, /pgf/number format/precision=1}]
\addplot[sL=cD] table[x=t, y=a] {\tabD};
\addplot[dL=cD] table[x=t, y=b] {\tabD};
\addplot[mL=cD] table[x=t, y=c] {\tabD};
\node[annot] at (rel axis cs:0.926,0.765) {(d)};
\end{axis}
\end{tikzpicture}
\end{document}
